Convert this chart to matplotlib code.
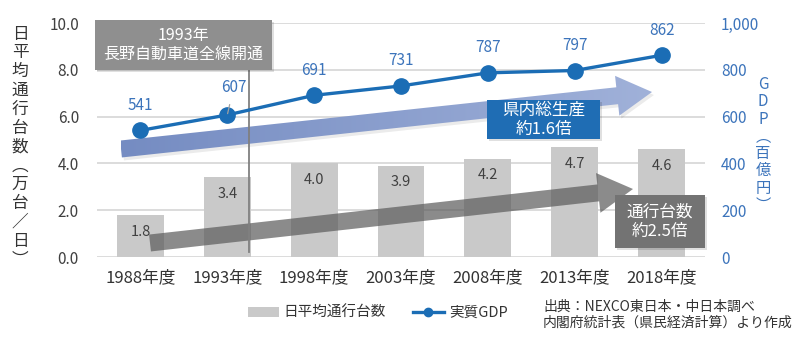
import matplotlib
matplotlib.use('Agg')
import matplotlib.pyplot as plt
from matplotlib.patches import Polygon, Rectangle, Patch
from matplotlib.lines import Line2D
import numpy as np

plt.rcParams['font.family'] = ['Noto Sans CJK JP', 'DejaVu Sans']

# data
years = ['1988年度', '1993年度', '1998年度', '2003年度', '2008年度', '2013年度', '2018年度']
traffic = [1.8, 3.4, 4.0, 3.9, 4.2, 4.7, 4.6]   # 万台/日
gdp = [541, 607, 691, 731, 787, 797, 862]       # 百億円
left_ticks = [0, 2, 4, 6, 8, 10]
right_ticks = [0, 200, 400, 600, 800, 1000]

W, H = 800, 341
BLUE = '#1b6db5'
LBLUE = '#3c74bb'
DARK = '#404040'


def fp(x, y):
    # image pixel (y down) -> figure fraction
    return (x / W, 1 - y / H)


def arrow_poly(start, tip, w, hw, hl):
    s = np.array(start, float)
    t = np.array(tip, float)
    d = (t - s) / np.linalg.norm(t - s)
    n = np.array([-d[1], d[0]])
    b = t - d * hl
    pts = [s + n * w / 2, b + n * w / 2, b + n * hw / 2, t,
           b - n * hw / 2, b - n * w / 2, s - n * w / 2]
    return [fp(*p) for p in pts]


fig = plt.figure(figsize=(W / 100, H / 100), dpi=100)
ax = fig.add_axes([97 / W, 1 - 257 / H, 608 / W, 234 / H])
ax2 = ax.twinx()

x = np.arange(len(years))

# bars
ax.bar(x, traffic, width=0.54, color='#c9c9c9', zorder=2)
for i, v in enumerate(traffic):
    ax.annotate(f'{v:.1f}', (i, v), xytext=(0, -12), textcoords='offset points',
                ha='center', va='center', fontsize=10.5, color=DARK, zorder=3)

ax.set_yticks(left_ticks, [f'{t:.1f}' for t in left_ticks])
ax.set_xticks(x, years)
ax.grid(axis='y', color='#d9d9d9', linewidth=1.3, zorder=0)
ax.set_axisbelow(True)
ax.tick_params(axis='y', length=0, pad=13, labelsize=11, labelcolor=DARK)
ax.tick_params(axis='x', length=0, pad=9, labelsize=12, labelcolor='#333333')
for sp in ax.spines.values():
    sp.set_visible(False)

# GDP line
ax2.plot(x, gdp, color=BLUE, linewidth=2.4, marker='o', markersize=11, zorder=4)
for i, v in enumerate(gdp):
    if i == 1:
        ax2.annotate(str(v), (i, v), xytext=(4.5, 19.5), textcoords='offset points',
                     ha='center', va='center', fontsize=11, color=LBLUE, zorder=6,
                     arrowprops=dict(arrowstyle='-', color='#a0a0a0', lw=0.9,
                                     shrinkA=4, shrinkB=1))
    else:
        ax2.annotate(str(v), (i, v), xytext=(0, 18), textcoords='offset points',
                     ha='center', va='center', fontsize=11, color=LBLUE, zorder=6)
ax2.set_yticks(right_ticks, [f'{t:,}' for t in right_ticks])
ax2.tick_params(axis='y', length=0, pad=11.5, labelsize=11, labelcolor=LBLUE)
for sp in ax2.spines.values():
    sp.set_visible(False)

# big arrows (soft shadow + body); blue one gets a left->right gradient
blue_pts = arrow_poly((121, 149), (652, 92), 17, 40, 35)
shadow = Polygon([(px + 2 / W, py - 3 / H) for px, py in blue_pts], closed=True,
                 transform=fig.transFigure, facecolor='#000000', alpha=0.08,
                 edgecolor='none', clip_on=False, zorder=0.9)
ax2.add_patch(shadow)
blue_arrow = Polygon(blue_pts, closed=True, transform=fig.transFigure,
                     facecolor='none', edgecolor='none', clip_on=False, zorder=1)
ax2.add_patch(blue_arrow)
grad = np.linspace(0, 1, 256).reshape(1, -1)
cmap = matplotlib.colors.LinearSegmentedColormap.from_list('bl', ['#758cc2', '#a0b1d9'])
img = ax2.imshow(grad, cmap=cmap, aspect='auto', extent=[121 / W, 652 / W, 1 - 160 / H, 1 - 72 / H],
                 transform=fig.transFigure, zorder=1, interpolation='bilinear')
img.set_clip_path(blue_arrow)

gray_pts = arrow_poly((150, 243), (633, 189), 17, 40, 35)
gray_arrow = Polygon(gray_pts, closed=True, transform=fig.transFigure, facecolor='#5a5a5a',
                     alpha=0.7, edgecolor='none', clip_on=False, zorder=1)
ax2.add_patch(gray_arrow)

# 1993 marker line and note
ax2.add_line(Line2D([249 / W, 249 / W], [1 - 70 / H, 1 - 252 / H], transform=fig.transFigure,
                    color='#808080', linewidth=1.3, zorder=2, clip_on=False))


def box(x0, y0, x1, y1, color, text, size):
    ax2.add_patch(Rectangle(fp(x0 + 2, y1 + 2), (x1 - x0) / W, (y1 - y0) / H,
                            transform=fig.transFigure, facecolor='#000000', alpha=0.12,
                            edgecolor='none', clip_on=False, zorder=6.5))
    ax2.add_patch(Rectangle(fp(x0, y1), (x1 - x0) / W, (y1 - y0) / H,
                            transform=fig.transFigure, facecolor=color, edgecolor='none',
                            clip_on=False, zorder=7))
    cx, cy = fp((x0 + x1) / 2, (y0 + y1) / 2)
    ax2.text(cx, cy, text, transform=fig.transFigure, ha='center', va='center',
             color='white', fontsize=size, linespacing=1.15, zorder=8)


box(95, 20, 272, 70, '#8f8f8f', '1993年\n長野自動車道全線開通', 11.5)
box(487, 100, 600, 139, '#1f6db4', '県内総生産\n約1.6倍', 12)
box(615, 195, 705, 248, '#737373', '通行台数\n約2.5倍', 12)

# limits last (imshow touches the data limits)
ax.set_xlim(-0.5, len(years) - 0.5)
ax.set_ylim(0, 10)
ax2.set_ylim(0, 1000)

# axis titles (vertical)
fig.text(*fp(20, 147), '\n'.join('日平均通行台数︵万台／日︶'), ha='center', va='center',
         fontsize=12, color='#333333', linespacing=1.14)
fig.text(*fp(763, 145), '\n'.join('GDP︵百億円︶'), ha='center', va='center',
         fontsize=11, color=LBLUE, linespacing=1.02)

# legend
handles = [Patch(facecolor='#c9c9c9', edgecolor='none', label='日平均通行台数'),
           Line2D([], [], color=BLUE, linewidth=2.4, marker='o', markersize=6, label='実質GDP')]
fig.legend(handles=handles, loc='center left', bbox_to_anchor=fp(248, 313), ncol=2,
           frameon=False, fontsize=10.5, handlelength=2.1, handleheight=0.6,
           handletextpad=0.35, columnspacing=1.85, borderpad=0, borderaxespad=0,
           labelcolor='#333333')

# source note
fig.text(*fp(543, 307), '出典：NEXCO東日本・中日本調べ', ha='left', va='center',
         fontsize=10, color='#333333')
fig.text(*fp(543, 323), '内閣府統計表（県民経済計算）より作成', ha='left', va='center',
         fontsize=10, color='#333333')

fig.savefig('out.png', dpi=100)
